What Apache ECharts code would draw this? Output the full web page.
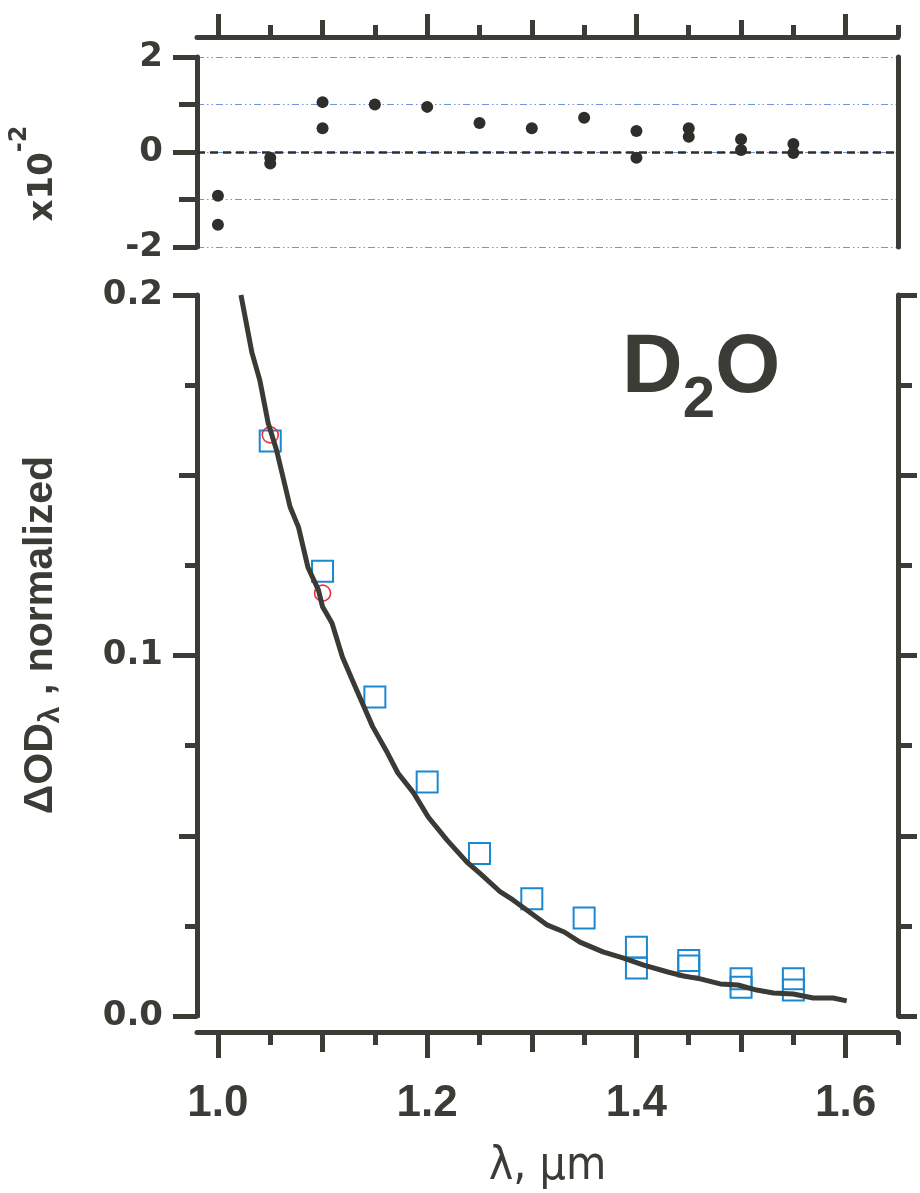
<!DOCTYPE html>
<html><head><meta charset="utf-8">
<script src="https://cdn.jsdelivr.net/npm/echarts@6/dist/echarts.min.js"></script>
<style>html,body{margin:0;padding:0;background:#fff}#c{width:920px;height:1193px}</style>
</head><body><div id="c"></div>
<script>
// ---- data ----
const resWl  = [1.0, 1.0, 1.05, 1.05, 1.1, 1.1, 1.15, 1.2, 1.25, 1.3, 1.35, 1.4, 1.4, 1.45, 1.45, 1.5, 1.5, 1.55, 1.55];
const resVal = [-0.92, -1.53, -0.12, -0.24, 1.05, 0.5, 1.0, 0.95, 0.61, 0.5, 0.72, 0.44, -0.12, 0.5, 0.32, 0.27, 0.04, 0.17, -0.02];
const sqWl   = [1.05, 1.1, 1.15, 1.2, 1.25, 1.3, 1.35, 1.4, 1.4, 1.45, 1.45, 1.5, 1.5, 1.55, 1.55];
const sqVal  = [0.1595, 0.1234, 0.0885, 0.0649, 0.0451, 0.0325, 0.0272, 0.0191, 0.0133, 0.0154, 0.0139, 0.0103, 0.0080, 0.0103, 0.0072];
const circWl  = [1.05, 1.1];
const circVal = [0.1612, 0.1173];
const fitWl  = [1.022, 1.0325, 1.040, 1.048, 1.056, 1.069, 1.077, 1.086, 1.096, 1.100, 1.109, 1.119, 1.128, 1.138, 1.148, 1.162, 1.172, 1.187, 1.201, 1.219, 1.238, 1.251, 1.270, 1.282, 1.299, 1.315, 1.331, 1.346, 1.368, 1.387, 1.407, 1.430, 1.445, 1.461, 1.480, 1.497, 1.515, 1.531, 1.550, 1.569, 1.588, 1.601];
const fitVal = [0.2, 0.184, 0.1764, 0.1645, 0.157, 0.1412, 0.1356, 0.1245, 0.1182, 0.1135, 0.109, 0.0996, 0.0935, 0.0868, 0.0802, 0.073, 0.0674, 0.0619, 0.0552, 0.0488, 0.0427, 0.0394, 0.0344, 0.0322, 0.0286, 0.0252, 0.0233, 0.0205, 0.0178, 0.0161, 0.0141, 0.0122, 0.0111, 0.0103, 0.0089, 0.0086, 0.0072, 0.0064, 0.0061, 0.005, 0.005, 0.0042];
const xMajorTicks = [1.0, 1.2, 1.4, 1.6];
const xMidTicks   = [1.1, 1.3, 1.5];
const xMinorTicks = [1.05, 1.15, 1.25, 1.35, 1.45, 1.55, 1.65];

const C = '#3b3c36';
const FH = '"Liberation Sans", Arial, Helvetica, sans-serif';
const FD = '"DejaVu Sans", sans-serif';
const FN = '"Liberation Sans Narrow", "DejaVu Sans Condensed", "Liberation Sans", sans-serif';
const X_MIN = 0.98, X_MAX = 1.65;

function pairs(a, b) { return a.map((v, i) => [v, b[i]]); }

function xAx(grid, pos, offset, ticks, len, showLine, label, extra) {
  return Object.assign({
    type: 'value', gridIndex: grid, position: pos, offset: offset, min: X_MIN, max: X_MAX,
    axisLine: { show: showLine, onZero: false, lineStyle: { color: C, width: 5 } },
    axisTick: { show: true, customValues: ticks, length: len, lineStyle: { color: C, width: 5 } },
    axisLabel: label || { show: false },
    splitLine: { show: false }
  }, extra || {});
}
function yAx(grid, pos, min, max, interval, len, showLine, label, extra) {
  return Object.assign({
    type: 'value', gridIndex: grid, position: pos, min: min, max: max, interval: interval,
    axisLine: { show: showLine, onZero: false, lineStyle: { color: C, width: 5 } },
    axisTick: { show: len > 0, length: len, lineStyle: { color: C, width: 5 } },
    axisLabel: label || { show: false },
    splitLine: { show: false }
  }, extra || {});
}

const chart = echarts.init(document.getElementById('c'), null, { renderer: 'canvas' });
chart.setOption({
  animation: false,
  backgroundColor: '#ffffff',
  title: {
    text: '{a|D}{b|2}{a|O}', left: 622, top: 308, padding: 0,
    textStyle: {
      rich: {
        a: { fontSize: 84, fontWeight: 'bold', fontFamily: FH, color: C, lineHeight: 122 },
        b: { fontSize: 58, fontWeight: 'bold', fontFamily: FH, color: C, lineHeight: 58, verticalAlign: 'bottom' }
      }
    }
  },
  grid: [
    { left: 197, right: 22, top: 57, height: 190, outerBoundsMode: 'none' },
    { left: 197, right: 22, top: 295, height: 721, outerBoundsMode: 'none' }
  ],
  xAxis: [
    xAx(0, 'top', 20, xMajorTicks, 23, true),
    xAx(0, 'top', 20, xMidTicks, 17, false),
    xAx(0, 'top', 20, xMinorTicks, 12, false),
    xAx(1, 'bottom', 16, xMajorTicks, 26, true,
      { show: true, customValues: xMajorTicks, margin: 50, color: C, fontSize: 44, fontWeight: 'bold', fontFamily: FH,
        formatter: v => v.toFixed(1) },
      { name: 'λ, μm', nameLocation: 'middle', nameGap: 112,
        nameTextStyle: { color: C, fontSize: 46, fontFamily: FN, fontWeight: 'normal' } }),
    xAx(1, 'bottom', 16, xMidTicks, 20, false),
    xAx(1, 'bottom', 16, xMinorTicks, 13, false)
  ],
  yAxis: [
    yAx(0, 'left', -2, 2, 2, 24, true,
      { show: true, margin: 34, color: C, fontSize: 34, fontWeight: 'bold', fontFamily: FD },
      { name: '{a|x10}{b|-2}', nameLocation: 'middle', nameRotate: 90, nameGap: 119,
        nameTextStyle: { padding: [0, 43, 0, 0],
          rich: {
            a: { fontSize: 34, fontWeight: 'bold', fontFamily: FD, color: C, lineHeight: 70 },
            b: { fontSize: 24, fontWeight: 'bold', fontFamily: FD, color: C, lineHeight: 24, verticalAlign: 'top' }
          } } }),
    yAx(0, 'left', -2, 2, 1, 18, false, null,
      { splitLine: { show: true, lineStyle: { color: '#6f95db', width: 1, type: [7, 3, 1.5, 3, 1.5, 3] } } }),
    yAx(0, 'right', -2, 2, 1, 0, true),
    yAx(1, 'left', 0, 0.2, 0.1, 24, true,
      { show: true, margin: 34, color: C, fontSize: 34, fontWeight: 'bold', fontFamily: FD, formatter: v => v.toFixed(1) },
      { name: '{a|ΔOD}{s|λ}{a| , normalized}', nameLocation: 'middle', nameRotate: 90, nameGap: 131,
        nameTextStyle: { padding: [0, 0, 0, 41],
          rich: {
            a: { fontSize: 41, fontWeight: 'bold', fontFamily: FH, color: C, lineHeight: 50 },
            s: { fontSize: 30, fontWeight: 'bold', fontFamily: FH, color: C, lineHeight: 28, verticalAlign: 'bottom' }
          } } }),
    yAx(1, 'left', 0, 0.2, 0.05, 18, false),
    yAx(1, 'left', 0, 0.2, 0.025, 12, false),
    yAx(1, 'right', 0, 0.2, 0.05, 19, true),
    yAx(1, 'right', 0, 0.2, 0.025, 14, false)
  ],
  series: [
    {
      name: 'residuals', type: 'scatter', xAxisIndex: 0, yAxisIndex: 0,
      data: pairs(resWl, resVal), symbol: 'circle', symbolSize: 12,
      itemStyle: { color: '#2e2e2a', opacity: 1 },
      markLine: { silent: true, symbol: 'none', label: { show: false },
        lineStyle: { color: '#2e2e2a', width: 2.5, type: [8, 5] }, data: [{ yAxis: 0 }] },
      z: 3
    },
    {
      name: 'squares', type: 'scatter', xAxisIndex: 3, yAxisIndex: 3,
      data: pairs(sqWl, sqVal), symbol: 'rect', symbolSize: 21,
      itemStyle: { color: 'rgba(0,0,0,0)', borderColor: '#1a88d0', borderWidth: 2, opacity: 1 }
    },
    {
      name: 'circles', type: 'scatter', xAxisIndex: 3, yAxisIndex: 3,
      data: pairs(circWl, circVal), symbol: 'circle', symbolSize: 16,
      itemStyle: { color: 'rgba(0,0,0,0)', borderColor: '#e8323c', borderWidth: 1.6, opacity: 1 }
    },
    {
      name: 'fit', type: 'line', xAxisIndex: 3, yAxisIndex: 3,
      data: pairs(fitWl, fitVal), showSymbol: false, symbol: 'none', clip: true,
      lineStyle: { color: '#3a3b35', width: 5 }, z: 4
    }
  ]
});
</script>
</body></html>
